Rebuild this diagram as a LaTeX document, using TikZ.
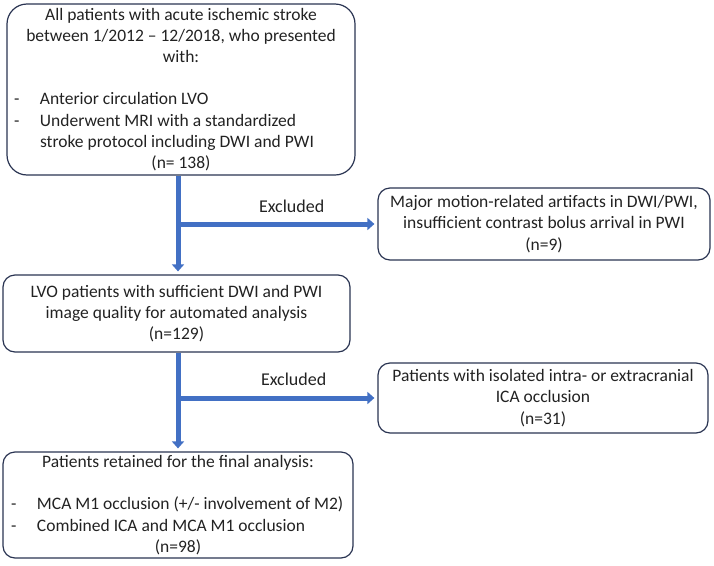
\documentclass[tikz,border=0pt]{standalone}
\usepackage{fontspec}
\setmainfont{Carlito}
\usetikzlibrary{arrows.meta}

\definecolor{flowblue}{RGB}{66,112,196}
\definecolor{boxnavy}{RGB}{42,52,82}
\definecolor{txtgray}{RGB}{34,34,34}

\def\itemw{334pt}
\newcommand{\dashitem}[1]{\makebox[\itemw][l]{\makebox[26pt][l]{-}#1}}
\newcommand{\dashcont}[1]{\makebox[\itemw][l]{\hspace{26pt}#1}}

\tikzset{
	box/.style = {draw = boxnavy, line width = 1.2pt, rounded corners = 12pt,
		align = center, inner xsep = 7pt, inner ysep = 0pt, text = txtgray,
		font = \fontsize{17.5}{21.2}\selectfont},
	flow/.style = {draw = flowblue, line width = 5pt,
		-{Triangle[width = 12pt, length = 7pt]}, shorten > = 3pt},
	excl/.style = {text = txtgray, font = \fontsize{18}{22}\selectfont}
}

\begin{document}
\begin{tikzpicture}[x = 1pt, y = 1pt]
	\useasboundingbox (0,0) rectangle (714,-565);
	
	% main column
	\node [box, rounded corners = 20pt, minimum width = 348, minimum height = 171] (start) at (181,-89.5)
		{All patients with acute ischemic stroke\\
		 between 1/2012 -- 12/2018, who presented\\
		 with:\\[21.2pt]
		 \dashitem{Anterior circulation LVO}\\
		 \dashitem{Underwent MRI with a standardized}\\
		 \dashcont{stroke protocol including DWI and PWI}\\
		 (n= 138)};
	
	\node [box, minimum width = 347, minimum height = 77] (quality) at (176.5,-313.5)
		{LVO patients with sufficient DWI and PWI\\
		 image quality for automated analysis\\
		 (n=129)};
	
	\node [box, minimum width = 350, minimum height = 106] (final) at (178,-505)
		{Patients retained for the final analysis:\\[21.2pt]
		 \dashitem{MCA M1 occlusion (+/- involvement of M2)}\\
		 \dashitem{Combined ICA and MCA M1 occlusion}\\
		 (n=98)};
	
	% exclusions
	\node [box, minimum width = 332, minimum height = 72] (artifacts) at (544,-224)
		{Major motion-related artifacts in DWI/PWI,\\
		 insufficient contrast bolus arrival in PWI\\
		 (n=9)};
	
	\node [box, minimum width = 330, minimum height = 70] (ica) at (543,-398)
		{Patients with isolated intra- or extracranial\\
		 ICA occlusion\\
		 (n=31)};
	
	\coordinate (trunk) at (178,0);
	
	\draw [flow] (start.south -| trunk) -- (quality.north -| trunk);
	\draw [flow] (quality.south -| trunk) -- (final.north -| trunk);
	
	\draw [flow] (artifacts.west -| trunk) -- (artifacts.west)
		node [excl, pos = 0.57, above = 6pt] (ex1) {Excluded};
	\draw [flow] (ica.west -| trunk) -- (ica.west)
		node [excl, pos = 0.58, above = 7pt] (ex2) {Excluded};
\end{tikzpicture}
\end{document}
